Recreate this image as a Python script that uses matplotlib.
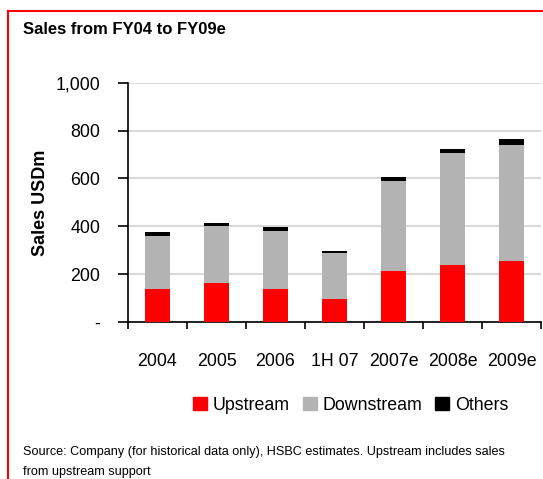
import numpy as np
import matplotlib.pyplot as plt
from matplotlib.lines import Line2D
from matplotlib.patches import Rectangle

plt.rcParams['font.family'] = ['Liberation Sans', 'DejaVu Sans']

categories = ['2004', '2005', '2006', '1H 07', '2007e', '2008e', '2009e']
upstream = [138, 163, 138, 96, 213, 240, 255]
downstream = [222, 237, 243, 193, 377, 467, 486]
others = [17, 14, 17, 8, 17, 17, 25]
yticks = [0, 200, 400, 600, 800, 1000]
ytick_labels = ['-', '200', '400', '600', '800', '1,000']

fig = plt.figure(figsize=(5.43, 4.79), dpi=100)
ax = fig.add_axes([128 / 543, 1 - 322 / 479, 413 / 543, 239.3 / 479])

x = np.arange(len(categories))
w = 0.43
up = np.array(upstream)
down = np.array(downstream)
ax.bar(x, up, w, color='#ff0000', zorder=3)
ax.bar(x, down, w, bottom=up, color='#b3b3b3', zorder=3)
ax.bar(x, others, w, bottom=up + down, color='black', zorder=3)

ax.set_xlim(-0.5, len(categories) - 0.5)
ax.set_ylim(0, 1000)
ax.set_yticks(yticks)
ax.set_yticklabels(ytick_labels, fontsize=12.8)
ax.yaxis.grid(True, color='#d9d9d9', linewidth=1.5, zorder=0)

ax.set_xticks(x)
ax.set_xticklabels(categories, fontsize=12.8)
ax.tick_params(axis='x', length=0, pad=22)
ax.set_xticks(np.arange(len(categories) + 1) - 0.5, minor=True)
ax.tick_params(axis='x', which='minor', length=5, width=1.2, direction='out')
ax.tick_params(axis='y', length=7, width=1.2, direction='out', pad=13)

for s in ['top', 'right']:
    ax.spines[s].set_visible(False)
ax.spines['left'].set_linewidth(1.2)
ax.spines['bottom'].set_linewidth(1.2)

ax.set_ylabel('Sales USDm', fontsize=13, fontweight='bold', labelpad=5)

# red frame (left and top)
fig.add_artist(Line2D([8 / 543, 8 / 543], [0, 1 - 11 / 479], color='#ff0000', lw=1.5))
fig.add_artist(Line2D([8 / 543, 1], [1 - 11 / 479, 1 - 11 / 479], color='#ff0000', lw=1.5))

fig.text(23 / 543, 1 - 30 / 479, 'Sales from FY04 to FY09e', fontsize=12,
         fontweight='bold', va='center', ha='left')

# legend
handles = [Rectangle((0, 0), 1, 1, color=c) for c in ['#ff0000', '#b3b3b3', 'black']]
fig.legend(handles, ['Upstream', 'Downstream', 'Others'], loc='center right',
           bbox_to_anchor=(509 / 543, 1 - 405 / 479), ncol=3, frameon=False,
           fontsize=12.8, handlelength=0.8, handleheight=0.8,
           handletextpad=0.35, columnspacing=0.7, borderaxespad=0, borderpad=0)

fig.text(23 / 543, 1 - 452 / 479,
         'Source: Company (for historical data only), HSBC estimates. Upstream includes sales',
         fontsize=9.1, va='center', ha='left')
fig.text(23 / 543, 1 - 472 / 479, 'from upstream support',
         fontsize=9.1, va='center', ha='left')

fig.savefig('out.png', dpi=100)
